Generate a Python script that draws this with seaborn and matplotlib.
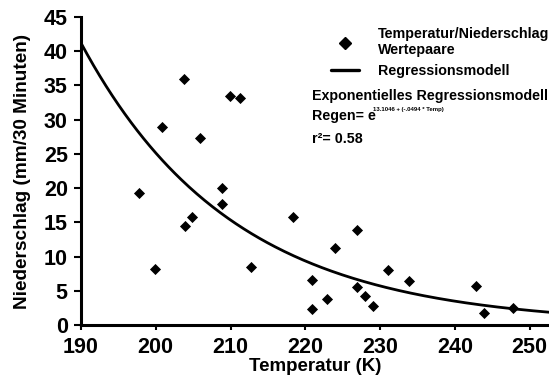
import numpy as np
import pandas as pd
import matplotlib
matplotlib.use("Agg")
import matplotlib.pyplot as plt
import seaborn as sns
from matplotlib.lines import Line2D

# Temperature / precipitation pairs
temperatur = [197.8, 199.9, 200.9, 203.8, 203.9, 204.9, 205.9, 208.9, 208.9, 209.9,
              211.3, 212.8, 218.4, 220.9, 220.9, 222.9, 224.0, 226.9, 226.9, 228.0,
              229.0, 231.0, 233.9, 242.9, 243.9, 247.8]
niederschlag = [19.3, 8.2, 28.9, 35.9, 14.4, 15.8, 27.3, 20.0, 17.7, 33.5,
                33.1, 8.5, 15.8, 6.6, 2.3, 3.8, 11.3, 13.9, 5.6, 4.2,
                2.8, 8.1, 6.4, 5.7, 1.8, 2.5]

# Exponential regression model coefficients
koeff_a = 13.1046
koeff_b = -0.0494
r_quadrat = 0.58

x_ticks = [190, 200, 210, 220, 230, 240, 250]
y_ticks = [0, 5, 10, 15, 20, 25, 30, 35, 40, 45]

sns.set_theme(style="ticks")
plt.rcParams["font.family"] = ["Liberation Sans", "DejaVu Sans"]
plt.rcParams["font.weight"] = "bold"
plt.rcParams["text.color"] = "black"
plt.rcParams["axes.labelcolor"] = "black"

punkte = pd.DataFrame({"T": temperatur, "N": niederschlag})
t_kurve = np.linspace(190, 252.6, 300)
kurve = pd.DataFrame({"T": t_kurve, "N": np.exp(koeff_a + koeff_b * t_kurve)})

fig = plt.figure(figsize=(5.49, 3.83), dpi=100)
ax = fig.add_axes([0.1475, 0.1514, 0.8525, 0.8042])

sns.lineplot(data=kurve, x="T", y="N", ax=ax, color="black", linewidth=2.0)
sns.scatterplot(data=punkte, x="T", y="N", ax=ax, marker="D", s=32,
                color="black", edgecolor="black", linewidth=0, zorder=3)

ax.set_xlim(190, 252.6)
ax.set_ylim(0, 45)
ax.set_xticks(x_ticks)
ax.set_yticks(y_ticks)
ax.tick_params(axis="both", labelsize=15.5, width=1.5, direction="out", colors="black")
ax.tick_params(axis="x", length=3.5, pad=5)
ax.tick_params(axis="y", length=5, pad=4.5)
for lab in ax.get_xticklabels() + ax.get_yticklabels():
    lab.set_fontweight("bold")

for side in ["top", "right"]:
    ax.spines[side].set_visible(False)
for side in ["left", "bottom"]:
    ax.spines[side].set_linewidth(2.2)
    ax.spines[side].set_color("black")

ax.set_xlabel("Temperatur (K)", fontsize=13.5, fontweight="bold", labelpad=0)
ax.set_ylabel("Niederschlag (mm/30 Minuten)", fontsize=13.7, fontweight="bold", labelpad=9)

handles = [
    Line2D([], [], marker="D", color="black", linestyle="none", markersize=6.5),
    Line2D([], [], color="black", linewidth=2.4),
]
ax.legend(handles, ["Temperatur/Niederschlag\nWertepaare", "Regressionsmodell"],
          loc="upper left", bbox_to_anchor=(0.512, 1.0), frameon=False,
          prop={"size": 10.3, "weight": "bold"}, handlelength=2.0,
          labelspacing=0.45, handletextpad=1.3, borderpad=0.2)

ax.text(0.493, 0.745, "Exponentielles Regressionsmodell", transform=ax.transAxes,
        fontsize=10.3, fontweight="bold", ha="left", va="center")
ax.text(0.493, 0.68, "Regen= e", transform=ax.transAxes,
        fontsize=10.3, fontweight="bold", ha="left", va="center")
ax.text(0.625, 0.70, f"{koeff_a} + (-.0494 * Temp)", transform=ax.transAxes,
        fontsize=4.3, fontweight="bold", ha="left", va="center")
ax.text(0.493, 0.605, f"r\u00b2= {r_quadrat}", transform=ax.transAxes,
        fontsize=10.3, fontweight="bold", ha="left", va="center")

fig.savefig("out.png", dpi=100, facecolor="white")
